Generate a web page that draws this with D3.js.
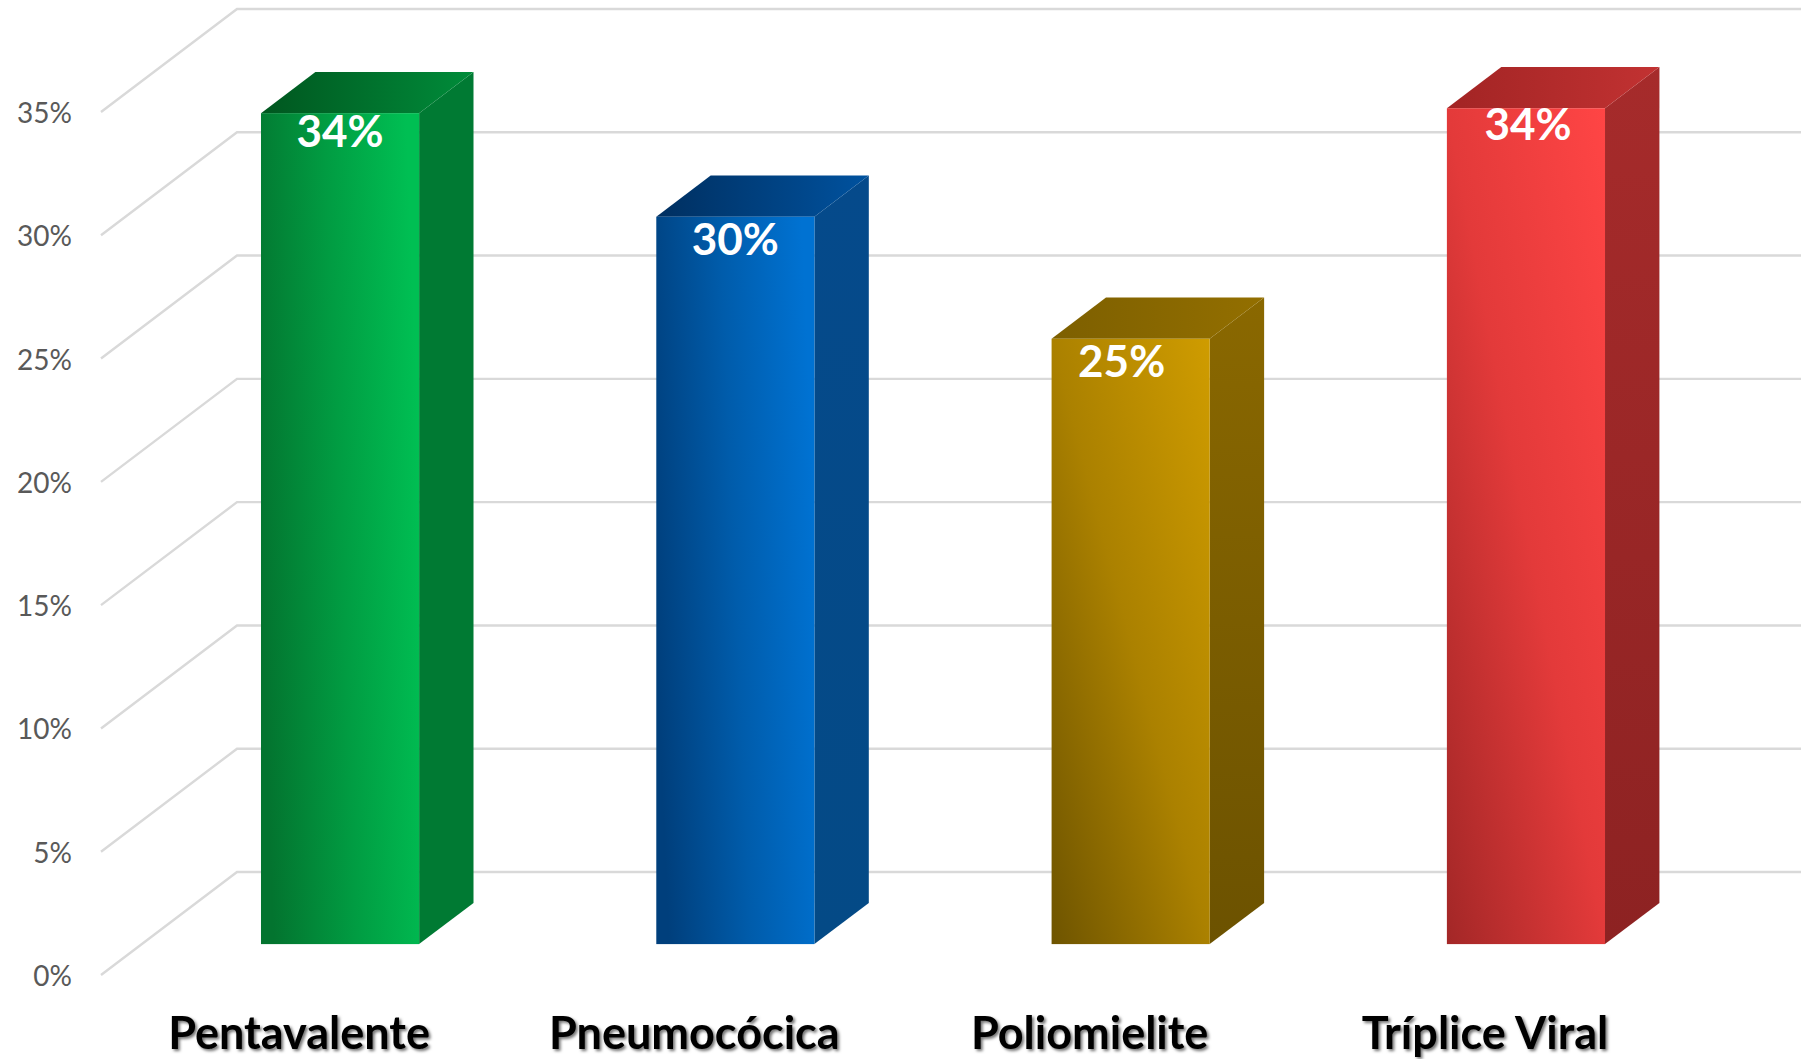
<!DOCTYPE html>
<html>
<head>
<meta charset="utf-8">
<script src="https://cdn.jsdelivr.net/npm/d3@7"></script>
<style>
  html, body { margin: 0; padding: 0; background: #fff; overflow: hidden; }
  svg { display: block; }
</style>
</head>
<body>
<div id="my_dataviz"></div>
<script>
// values
const categories = ["Pentavalente", "Pneumocócica", "Poliomielite", "Tríplice Viral"];
const coverage = [33.7, 29.5, 24.55, 33.9];
const yTicks = [0, 5, 10, 15, 20, 25, 30, 35];

// colours: front [dark, middle, light], side [top, bottom], top [left, right]
const frontColors = [["#03742f", "#019c42", "#00bf53"], ["#003f7c", "#005cab", "#0072d2"], ["#6e5400", "#ab8100", "#cf9c00"], ["#a32727", "#e33a3a", "#ff4545"]];
const sideColors = [["#007a33", "#007a33"], ["#054a8b", "#044a86"], ["#8a6800", "#6c5200"], ["#a62b2b", "#8d2222"]];
const topColors = [["#00561f", "#008c3a"], ["#002f60", "#00529f"], ["#7d5f00", "#936f00"], ["#a22424", "#c23232"]];
// green and blue run nearly sideways, gold and red run corner to corner
const frontAngles = [[0, 0.6, 1, 0.4], [0, 0.6, 1, 0.4], [0, 1, 1, 0], [0, 1, 1, 0]];

var width = 1801, height = 1059;
// 3d box of the chart: the back wall sits this far from the front plane
var depth = {dx: 136, dy: -103};
var barFrom = 0.3, barTo = 0.7;

var svg = d3.select("#my_dataviz")
  .append("svg")
    .attr("width", width)
    .attr("height", height);

let x = d3.scaleBand()
  .domain(categories)
  .range([142.4, 1723.6])
  .paddingInner(0.6)
  .paddingOuter(0.3);

let y = d3.scaleLinear()
  .domain([0, 35])
  .range([975, 112]);

let defs = svg.append("defs");

function add_gradient(id, stops, coords){
    let g = defs.append("linearGradient")
        .attr("id", id)
        .attr("x1", coords[0]).attr("y1", coords[1])
        .attr("x2", coords[2]).attr("y2", coords[3]);
    stops.forEach(function(s, k){
        g.append("stop").attr("offset", k / (stops.length - 1)).attr("stop-color", s);
    });
}

categories.forEach(function(c, i){
    add_gradient("front" + i, frontColors[i], frontAngles[i]);
    add_gradient("side" + i, sideColors[i], [0, 0, 0, 1]);
    add_gradient("top" + i, topColors[i], [0, 0, 1, 0]);
});

let shadow = defs.append("filter").attr("id", "labelShadow")
    .attr("x", "-10%").attr("y", "-20%").attr("width", "120%").attr("height", "150%");
shadow.append("feDropShadow")
    .attr("dx", 2).attr("dy", 2).attr("stdDeviation", 1.8)
    .attr("flood-color", "#000").attr("flood-opacity", 0.55);

// gridlines: back wall plus the diagonal on the left side wall
let grid = svg.append("g")
    .attr("fill", "none")
    .attr("stroke", "#d9d9d9")
    .attr("stroke-width", 2.4);

grid.selectAll("path")
  .data(yTicks)
  .enter()
  .append("path")
    .attr("d", function (d) {
        let p = d3.path();
        p.moveTo(101, y(d));
        p.lineTo(101 + depth.dx, y(d) + depth.dy);
        p.lineTo(width, y(d) + depth.dy);
        return p.toString();
    });

// y axis labels
svg.append("g")
    .attr("transform", "translate(72,1.5)")
    .call(d3.axisLeft(y).tickValues(yTicks).tickSize(0).tickPadding(0).tickFormat(d => d + "%"))
    .call(g => g.select(".domain").attr("display", "none"))
    .call(g => g.selectAll("text")
        .attr("fill", "#595959")
        .style("font-family", "Lato, sans-serif")
        .style("font-size", "28px"));

// bars
function poly(points){
    return d3.line()(points) + "Z";
}

let bars = svg.append("g").selectAll("g")
  .data(categories)
  .enter()
  .append("g");

let fx0 = d => x(d) ;
let fx1 = d => x(d) + x.bandwidth();
let shiftX = (barTo - barFrom) * depth.dx;
let shiftY = (barTo - barFrom) * depth.dy;
let baseY = y(0) + barFrom * depth.dy;
let topY = i => y(coverage[i]) + barFrom * depth.dy;

// side face
bars.append("path")
    .attr("d", (d, i) => poly([[fx1(d), topY(i)], [fx1(d) + shiftX, topY(i) + shiftY],
                               [fx1(d) + shiftX, baseY + shiftY], [fx1(d), baseY]]))
    .attr("fill", (d, i) => "url(#side" + i + ")");

// top face
bars.append("path")
    .attr("d", (d, i) => poly([[fx0(d), topY(i)], [fx0(d) + shiftX, topY(i) + shiftY],
                               [fx1(d) + shiftX, topY(i) + shiftY], [fx1(d), topY(i)]]))
    .attr("fill", (d, i) => "url(#top" + i + ")");

// front face
bars.append("rect")
    .attr("x", d => fx0(d))
    .attr("y", (d, i) => topY(i))
    .attr("width", x.bandwidth())
    .attr("height", (d, i) => baseY - topY(i))
    .attr("fill", (d, i) => "url(#front" + i + ")");

// data labels, moved by hand like in the original
const labelNudgeX = [0, 0, -9, 2];
const labelNudgeY = [34, 38, 38, 32];
bars.append("text")
    .attr("x", (d, i) => x(d) + x.bandwidth() / 2 + labelNudgeX[i])
    .attr("y", (d, i) => topY(i) + labelNudgeY[i])
    .attr("text-anchor", "middle")
    .attr("fill", "#fff")
    .style("font-family", "Lato, sans-serif")
    .style("font-weight", 700)
    .style("font-size", "44px")
    .text((d, i) => Math.round(coverage[i]) + "%");

// category labels
svg.append("g").selectAll("text")
  .data(categories)
  .enter()
  .append("text")
    .attr("x", d => x(d) + x.bandwidth() / 2 - 41)
    .attr("y", 1049)
    .attr("text-anchor", "middle")
    .attr("fill", "#000")
    .attr("filter", "url(#labelShadow)")
    .style("font-family", "Lato, sans-serif")
    .style("font-weight", 700)
    .style("font-size", "45px")
    .text(d => d);
</script>
</body>
</html>
